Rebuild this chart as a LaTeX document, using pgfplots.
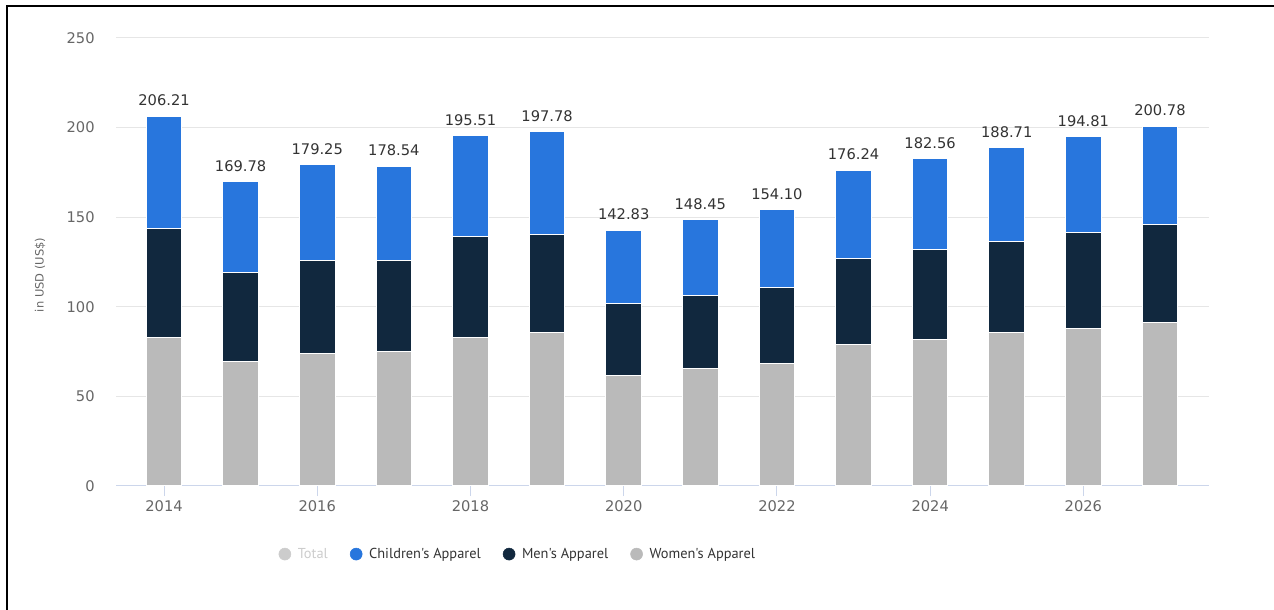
\documentclass[border=0pt]{standalone}
\usepackage{fontspec}
\setmainfont{DejaVu Sans}
\newfontfamily\legfont{PT Sans}
\usepackage{pgfplots}
\usepackage{pgfplotstable}
\pgfplotsset{compat=1.18}
\definecolor{cblue}{RGB}{40,118,221}
\definecolor{cnavy}{RGB}{17,40,62}
\definecolor{cgray}{RGB}{186,186,186}
\definecolor{clight}{RGB}{204,204,204}
\definecolor{cgrid}{RGB}{230,230,230}
\definecolor{caxis}{RGB}{204,214,235}
\definecolor{ctick}{RGB}{102,102,102}
\definecolor{ctext}{RGB}{51,51,51}

% women, men, children; total = top of stack
\pgfplotstableread{
year women men child total
2014 82.8 60.8 62.61 206.21
2015 69.4 49.6 50.78 169.78
2016 74.0 52.1 53.15 179.25
2017 75.0 51.1 52.44 178.54
2018 83.0 56.0 56.51 195.51
2019 85.4 55.2 57.18 197.78
2020 61.9 40.1 40.83 142.83
2021 65.3 40.9 42.25 148.45
2022 68.5 42.4 43.20 154.10
2023 79.1 47.6 49.54 176.24
2024 82.0 49.7 50.86 182.56
2025 85.6 50.9 52.21 188.71
2026 87.8 53.6 53.41 194.81
2027 91.0 55.2 54.58 200.78
}\apparel

\pgfplotsset{frame/.style={
  at={(87pt,93pt)}, anchor=south west,
  scale only axis, width=819.75pt, height=336pt,
  xmin=2013.373, xmax=2027.64, ymin=0, ymax=250, clip=false}}

\begin{document}
\begin{tikzpicture}
\useasboundingbox (0,0) rectangle (955.5pt,457.5pt);
\draw[line width=1.5pt] (5.25pt,0) -- (5.25pt,453pt) -- (955.5pt,453pt);
\begin{axis}[
  frame,
  ybar stacked, bar width=26.7pt,
  xtick={2014,2016,...,2026},
  ytick={0,50,...,250},
  /pgf/number format/1000 sep={},
  /pgf/number format/assume math mode=true,
  axis x line*=bottom, axis y line*=left,
  x axis line style={draw=caxis, line width=0.75pt},
  y axis line style={draw=none},
  tick align=outside, major tick length=7.5pt,
  xtick style={draw=caxis, line width=0.75pt},
  ytick style={draw=none},
  ymajorgrids, grid style={draw=cgrid, line width=0.75pt},
  tick label style={font=\fontsize{11}{13}\selectfont, text=ctick},
  yticklabel style={xshift=-5pt},
  ylabel={in USD (US\$)},
  ylabel style={at={(axis description cs:-0.0695,0.471)}, anchor=center,
    font=\fontsize{8.6}{10}\selectfont, text=ctick},
  legend style={at={(0.368,-0.152)}, anchor=center, draw=none, fill=none,
    legend columns=4, font=\legfont\fontsize{10.8}{12}\selectfont,
    /tikz/every odd column/.append style={column sep=3pt},
    /tikz/every even column/.append style={column sep=14.5pt}},
  legend cell align=left,
]
\addplot[fill=cgray, draw=white, line width=0.75pt, forget plot]
  table[x=year, y=women] {\apparel};
\addplot[fill=cnavy, draw=white, line width=0.75pt, forget plot]
  table[x=year, y=men] {\apparel};
\addplot[fill=cblue, draw=white, line width=0.75pt, forget plot]
  table[x=year, y=child] {\apparel};
\addlegendimage{legend image code/.code={\fill[clight] (0pt,0pt) circle (4.5pt);}}
\addlegendentry{\textcolor{clight}{Total}}
\addlegendimage{legend image code/.code={\fill[cblue] (0pt,0pt) circle (4.5pt);}}
\addlegendentry{\textcolor{ctext}{Children's Apparel}}
\addlegendimage{legend image code/.code={\fill[cnavy] (0pt,0pt) circle (4.5pt);}}
\addlegendentry{\textcolor{ctext}{Men's Apparel}}
\addlegendimage{legend image code/.code={\fill[cgray] (0pt,0pt) circle (4.5pt);}}
\addlegendentry{\textcolor{ctext}{Women's Apparel}}
\end{axis}
% totals above the stacks
\begin{axis}[frame, hide axis]
\addplot[draw=none, mark=none, only marks,
  point meta=explicit symbolic, nodes near coords,
  nodes near coords style={anchor=south, inner sep=0pt, yshift=7.5pt,
    font=\fontsize{11}{13}\selectfont, text=ctext}]
  table[x=year, y=total, meta=total] {\apparel};
\end{axis}
\end{tikzpicture}
\end{document}
